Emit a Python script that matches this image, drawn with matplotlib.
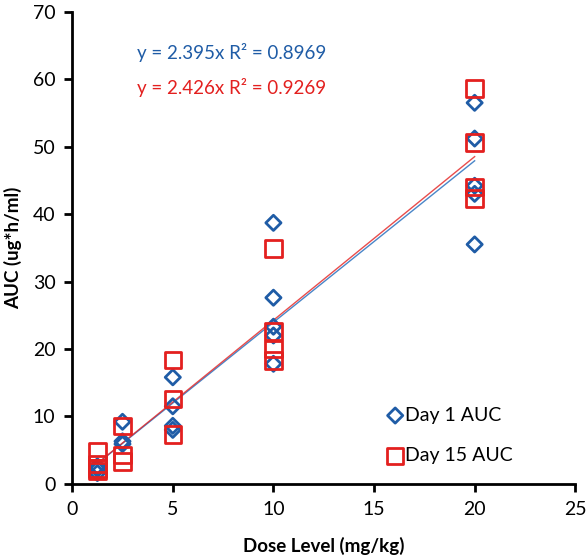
import numpy as np
import matplotlib
matplotlib.use("Agg")
import matplotlib.pyplot as plt

plt.rcParams['font.family'] = ['Lato', 'DejaVu Sans']

# Day 1 AUC (blue diamonds)
day1_dose = [1.25, 1.25, 1.25, 2.5, 2.5, 2.5, 5, 5, 5, 5,
             10, 10, 10, 10, 10, 20, 20, 20, 20, 20]
day1_auc = [2.6, 2.2, 1.6, 9.2, 6.3, 5.9, 15.8, 11.5, 8.6, 8.0,
            38.7, 27.6, 23.3, 22.0, 17.8, 56.5, 51.2, 44.2, 43.0, 35.5]

# Day 15 AUC (red squares)
day15_dose = [1.25, 1.25, 1.25, 1.25, 2.5, 2.5, 2.5, 5, 5, 5,
              10, 10, 10, 10, 20, 20, 20, 20]
day15_auc = [4.8, 2.9, 2.3, 1.9, 8.6, 4.3, 3.3, 18.4, 12.6, 7.3,
             34.9, 22.6, 20.0, 18.3, 58.6, 50.6, 44.0, 42.3]

# trendlines through origin
slope1, r2_1 = 2.395, 0.8969
slope15, r2_15 = 2.426, 0.9269

blue = '#1f5ca6'
red = '#e3201f'

fig = plt.figure(figsize=(5.87, 5.6), dpi=100)
ax = fig.add_axes([0.123, 0.136, 0.857, 0.843])

xl = np.array([min(day1_dose), max(day1_dose)])
ax.plot(xl, slope1 * xl, color='#4a86c8', lw=1.0, zorder=2)
ax.plot(xl, slope15 * xl, color=red, lw=1.0, alpha=0.8, zorder=2)

ax.scatter(day1_dose, day1_auc, marker='D', s=60, facecolors='none',
           edgecolors=blue, linewidths=2.0, label='Day 1 AUC', zorder=3)
ax.scatter(day15_dose, day15_auc, marker='s', s=140, facecolors='none',
           edgecolors=red, linewidths=2.0, label='Day 15 AUC', zorder=3)

ax.text(3.2, 63.9, 'y = %.3fx R² = %.4f' % (slope1, r2_1), color=blue,
        fontsize=13.5, va='center')
ax.text(3.2, 58.7, 'y = %.3fx R² = %.4f' % (slope15, r2_15), color=red,
        fontsize=13.5, va='center')

ax.set_xlim(0, 25)
ax.set_ylim(0, 70)
ax.set_xticks(range(0, 26, 5))
ax.set_yticks(range(0, 71, 10))
ax.spines['top'].set_visible(False)
ax.spines['right'].set_visible(False)
ax.spines['left'].set_linewidth(2)
ax.spines['bottom'].set_linewidth(2)
ax.tick_params(direction='out', length=6, width=2, labelsize=14, pad=6)

ax.set_xlabel('Dose Level (mg/kg)', fontsize=13.5, fontweight='bold', labelpad=14)
ax.set_ylabel('AUC (ug*h/ml)', fontsize=13.5, fontweight='bold', labelpad=8)

ax.legend(loc='upper left', bbox_to_anchor=(0.615, 0.18), frameon=False,
          fontsize=14, handlelength=0.6, handletextpad=0.2, labelspacing=1.2,
          borderaxespad=0)

fig.savefig('out.png', dpi=100)
